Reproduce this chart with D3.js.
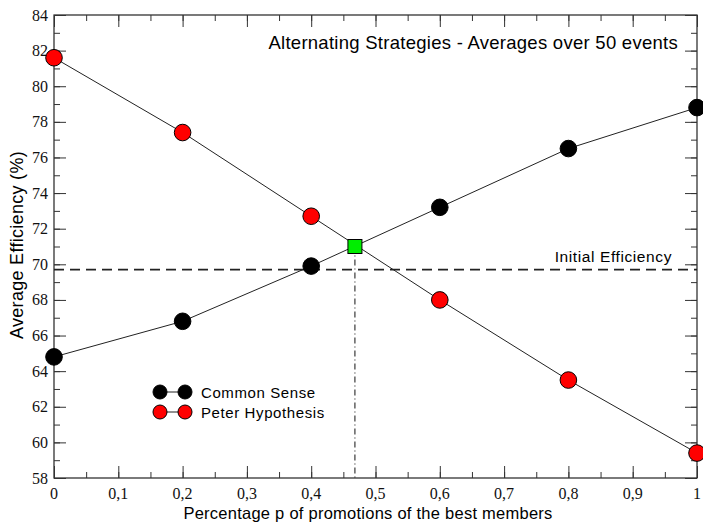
<!DOCTYPE html>
<html><head><meta charset="utf-8">
<script src="https://cdn.jsdelivr.net/npm/d3@7"></script>
<style>body{margin:0;background:#fff}svg{display:block}
.sans{font-family:'Liberation Sans',Arial,Helvetica,sans-serif;fill:#000}
.serif{font-family:'Liberation Serif','Times New Roman',Times,serif;fill:#111;font-size:16px}
</style>
</head><body><svg id="c" width="703" height="524"></svg>
<script>
const xValues = [0, 0.2, 0.4, 0.6, 0.8, 1];
const commonSense = [64.8, 66.8, 69.9, 73.2, 76.5, 78.8];
const peterHypothesis = [81.6, 77.4, 72.7, 68.0, 63.5, 59.4];
const crossing = [0.468, 71.0];
const initialEfficiency = 69.7;
const xTicks = [0, 0.1, 0.2, 0.3, 0.4, 0.5, 0.6, 0.7, 0.8, 0.9, 1];
const yTicks = [58, 60, 62, 64, 66, 68, 70, 72, 74, 76, 78, 80, 82, 84];
const seriesNames = ["Common Sense", "Peter Hypothesis"];
const seriesColors = ["#000000", "#ff0000"];
const title = "Alternating Strategies - Averages over 50 events";

const svg = d3.select("#c");
const L = 54, R = 697, T = 15, B = 478;
const x = d3.scaleLinear().domain([0, 1]).range([L, R]);
const y = d3.scaleLinear().domain([58, 84]).range([B, T]);
const fmt = d => d === 0 ? "0" : d === 1 ? "1" : String(d).replace(".", ",");

// frame
svg.append("rect").attr("x", L).attr("y", T).attr("width", R - L).attr("height", B - T)
  .attr("fill", "none").attr("stroke", "#222").attr("stroke-width", 1.2);

// axes with inward ticks (labels drawn separately)
const minorX = d3.range(0, 1.0001, 0.05);
const minorY = d3.range(58, 84.001, 1);
const axes = [
  svg.append("g").attr("transform", `translate(0,${B})`).call(d3.axisBottom(x).tickValues(xTicks).tickFormat("").tickSizeInner(-12).tickSizeOuter(0)),
  svg.append("g").attr("transform", `translate(0,${B})`).call(d3.axisBottom(x).tickValues(minorX).tickFormat("").tickSizeInner(-6).tickSizeOuter(0)),
  svg.append("g").attr("transform", `translate(0,${T})`).call(d3.axisTop(x).tickValues(xTicks).tickFormat("").tickSizeInner(-12).tickSizeOuter(0)),
  svg.append("g").attr("transform", `translate(0,${T})`).call(d3.axisTop(x).tickValues(minorX).tickFormat("").tickSizeInner(-6).tickSizeOuter(0)),
  svg.append("g").attr("transform", `translate(${L},0)`).call(d3.axisLeft(y).tickValues(yTicks).tickFormat("").tickSizeInner(-12).tickSizeOuter(0)),
  svg.append("g").attr("transform", `translate(${L},0)`).call(d3.axisLeft(y).tickValues(minorY).tickFormat("").tickSizeInner(-6).tickSizeOuter(0)),
  svg.append("g").attr("transform", `translate(${R},0)`).call(d3.axisRight(y).tickValues(yTicks).tickFormat("").tickSizeInner(-12).tickSizeOuter(0)),
  svg.append("g").attr("transform", `translate(${R},0)`).call(d3.axisRight(y).tickValues(minorY).tickFormat("").tickSizeInner(-6).tickSizeOuter(0))
];
axes.forEach(g => {
  g.select(".domain").remove();
  g.selectAll(".tick text").remove();
  g.selectAll(".tick line").attr("stroke", "#333").attr("stroke-width", 1);
});

// tick labels
svg.append("g").selectAll("text").data(xTicks).enter().append("text")
  .attr("class", "serif").style("font-family", "'Liberation Serif', 'Times New Roman', serif").style("font-size", "16px")
  .attr("x", d => x(d)).attr("y", 499).attr("text-anchor", "middle").text(fmt);
svg.append("g").selectAll("text").data(yTicks).enter().append("text")
  .attr("class", "serif").style("font-family", "'Liberation Serif', 'Times New Roman', serif").style("font-size", "16px")
  .attr("x", 48).attr("y", d => y(d) + 5.5).attr("text-anchor", "end").text(d => d);

// initial efficiency dashed line
svg.append("line").attr("x1", L).attr("x2", R).attr("y1", y(initialEfficiency)).attr("y2", y(initialEfficiency))
  .attr("stroke", "#222").attr("stroke-width", 1.6).attr("stroke-dasharray", "10,6");
svg.append("text").attr("class", "sans").attr("x", 672).attr("y", 262).attr("text-anchor", "end")
  .attr("font-size", 15.5).attr("letter-spacing", 0.6).text("Initial Efficiency");

// vertical dash-dot line from crossing
svg.append("line").attr("x1", x(crossing[0])).attr("x2", x(crossing[0]))
  .attr("y1", y(crossing[1])).attr("y2", B)
  .attr("stroke", "#111").attr("stroke-width", 1).attr("stroke-dasharray", "6,3,1,3");

// series
const line = d3.line().x(d => x(d[0])).y(d => y(d[1]));
[commonSense, peterHypothesis].forEach((vals, i) => {
  const pts = xValues.map((xv, j) => [xv, vals[j]]);
  svg.append("path").datum(pts).attr("d", line).attr("fill", "none").attr("stroke", "#222").attr("stroke-width", 1);
  svg.selectAll(null).data(pts).enter().append("circle")
    .attr("cx", d => x(d[0])).attr("cy", d => y(d[1])).attr("r", 8.3)
    .attr("fill", seriesColors[i]).attr("stroke", "#000").attr("stroke-width", 1);
});

// crossing marker
svg.append("rect").attr("x", x(crossing[0]) - 7).attr("y", y(crossing[1]) - 7).attr("width", 14).attr("height", 14)
  .attr("fill", "#00ee00").attr("stroke", "#000").attr("stroke-width", 1);

// title
svg.append("text").attr("class", "sans").attr("x", 678).attr("y", 49).attr("text-anchor", "end")
  .attr("font-size", 18.5).attr("letter-spacing", 0.27).text(title);

// legend
seriesNames.forEach((name, i) => {
  const ly = 392 + i * 20;
  const g = svg.append("g");
  g.append("line").attr("x1", 160).attr("x2", 185).attr("y1", ly).attr("y2", ly).attr("stroke", "#222");
  [160, 185].forEach(cx => g.append("circle").attr("cx", cx).attr("cy", ly).attr("r", 7)
    .attr("fill", seriesColors[i]).attr("stroke", "#000"));
  g.append("text").attr("class", "sans").attr("x", 201).attr("y", ly + 5.5)
    .attr("font-size", 15).attr("letter-spacing", 0.6).text(name);
});

// axis titles
svg.append("text").attr("class", "sans").attr("x", 368).attr("y", 519).attr("text-anchor", "middle")
  .attr("font-size", 16.5).attr("letter-spacing", 0.25).text("Percentage p of promotions of the best members");
svg.append("text").attr("class", "sans").attr("transform", `translate(23,245) rotate(-90)`).attr("text-anchor", "middle")
  .attr("font-size", 18).attr("letter-spacing", 0.3).text("Average Efficiency (%)");
</script></body></html>
